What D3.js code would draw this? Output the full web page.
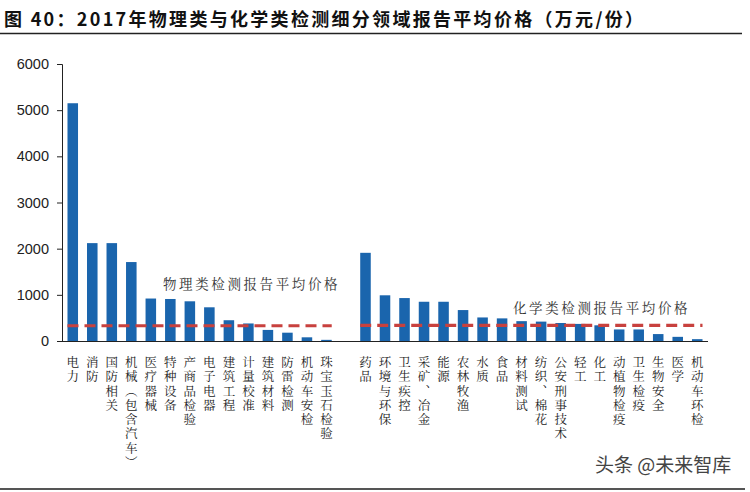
<!DOCTYPE html>
<html>
<head>
<meta charset="utf-8">
<script src="https://cdn.jsdelivr.net/npm/d3@7/dist/d3.min.js"></script>
<style>
  body { margin: 0; background: #fff; }
  svg { display: block; }
  .cat { writing-mode: vertical-rl; }
</style>
</head>
<body>
<script>
var width = 750;
var height = 492;

// physical testing categories (万元/份)
var physNames = ["电力", "消防", "国防相关", "机械（包含汽车）", "医疗器械", "特种设备", "产商品检验",
  "电子电器", "建筑工程", "计量校准", "建筑材料", "防雷检测", "机动车安检", "珠宝玉石检验"];
var physValues = [5150, 2120, 2120, 1710, 920, 910, 860, 730, 450, 380, 240, 180, 80, 25];
var physAvg = 330;

// chemical testing categories
var chemNames = ["药品", "环境与环保", "卫生疾控", "采矿、冶金", "能源", "农林牧渔", "水质", "食品",
  "材料测试", "纺织、棉花", "公安刑事技术", "轻工", "化工", "动植物检疫", "卫生检疫", "生物安全", "医学", "机动车环检"];
var chemValues = [1910, 990, 930, 850, 850, 670, 510, 490, 430, 420, 390, 370, 340, 250, 250, 150, 90, 40];
var chemAvg = 340;

var yTicks = [0, 1000, 2000, 3000, 4000, 5000, 6000];

var svg = d3.select("body").append("svg")
  .attr("width", width)
  .attr("height", height);

// title
svg.append("text")
  .attr("x", 4)
  .attr("y", 26)
  .attr("font-family", "'Noto Sans CJK SC', sans-serif")
  .attr("font-size", 18)
  .attr("font-weight", "bold")
  .attr("letter-spacing", 2.3)
  .attr("fill", "#111")
  .text("图 40：2017年物理类与化学类检测细分领域报告平均价格（万元/份）");

svg.append("line")
  .attr("x1", 0).attr("x2", 742)
  .attr("y1", 33.5).attr("y2", 33.5)
  .attr("stroke", "#222")
  .attr("stroke-width", 1.3);

// one blank slot between the two groups
var keys = physNames.map(function(d) { return "p:" + d; })
  .concat(["gap"])
  .concat(chemNames.map(function(d) { return "c:" + d; }));

var bars = physNames.map(function(d, i) { return { key: "p:" + d, name: d, value: physValues[i] }; })
  .concat(chemNames.map(function(d, i) { return { key: "c:" + d, name: d, value: chemValues[i] }; }));

var x = d3.scaleBand()
  .domain(keys)
  .range([63, 707])
  .paddingInner(0.46)
  .paddingOuter(0.23);

var y = d3.scaleLinear()
  .domain([0, 6000])
  .range([341, 64]);

// y axis
var yAxis = svg.append("g")
  .attr("transform", "translate(62,0)")
  .call(d3.axisLeft(y).tickValues(yTicks).tickFormat(d3.format("d")).tickSize(5).tickPadding(8));
yAxis.select(".domain").attr("stroke", "#222");
yAxis.selectAll(".tick line").attr("stroke", "#222");
yAxis.selectAll("text")
  .attr("font-family", "'Liberation Sans', Arial, sans-serif")
  .attr("font-size", 14.5)
  .attr("fill", "#222");

// bars
svg.selectAll("rect.bar")
  .data(bars)
  .enter()
  .append("rect")
  .attr("class", "bar")
  .attr("x", function(d) { return x(d.key); })
  .attr("y", function(d) { return y(d.value); })
  .attr("width", x.bandwidth())
  .attr("height", function(d) { return y(0) - y(d.value); })
  .attr("fill", "#1a65ad");

// x baseline
svg.append("line")
  .attr("x1", 62).attr("x2", 708)
  .attr("y1", y(0) + 0.5).attr("y2", y(0) + 0.5)
  .attr("stroke", "#222")
  .attr("stroke-width", 1.2);

// average lines
var half = x.bandwidth() / 2;
var avgLines = [
  { from: "p:" + physNames[0], to: "p:" + physNames[physNames.length - 1], value: physAvg,
    label: "物理类检测报告平均价格", lx: 163, ly: 289 },
  { from: "c:" + chemNames[0], to: "c:" + chemNames[chemNames.length - 1], value: chemAvg,
    label: "化学类检测报告平均价格", lx: 513, ly: 313 }
];

avgLines.forEach(function(a) {
  svg.append("line")
    .attr("x1", x(a.from))
    .attr("x2", x(a.to) + half * 2)
    .attr("y1", y(a.value))
    .attr("y2", y(a.value))
    .attr("stroke", "#c8413e")
    .attr("stroke-width", 3.2)
    .attr("stroke-dasharray", "11,6");

  svg.append("text")
    .attr("x", a.lx)
    .attr("y", a.ly)
    .attr("font-family", "'Noto Serif CJK SC', 'Noto Sans CJK SC', serif")
    .attr("font-size", 13.5)
    .attr("letter-spacing", 2.6)
    .attr("fill", "#333")
    .text(a.label);
});

// vertical category labels
svg.selectAll("text.cat")
  .data(bars)
  .enter()
  .append("text")
  .attr("class", "cat")
  .attr("x", function(d) { return x(d.key) + half; })
  .attr("y", 356)
  .attr("font-family", "'Noto Serif CJK SC', 'Noto Sans CJK SC', serif")
  .attr("font-size", 12.5)
  .attr("letter-spacing", 1.8)
  .attr("fill", "#222")
  .text(function(d) { return d.name; });

// watermark
svg.append("text")
  .attr("x", 595)
  .attr("y", 472)
  .attr("font-family", "'Noto Sans CJK SC', sans-serif")
  .attr("font-size", 19)
  .attr("fill", "#444")
  .text("头条 @未来智库");

svg.append("line")
  .attr("x1", 0).attr("x2", 745)
  .attr("y1", 489).attr("y2", 489)
  .attr("stroke", "#555")
  .attr("stroke-width", 2);
</script>
</body>
</html>
